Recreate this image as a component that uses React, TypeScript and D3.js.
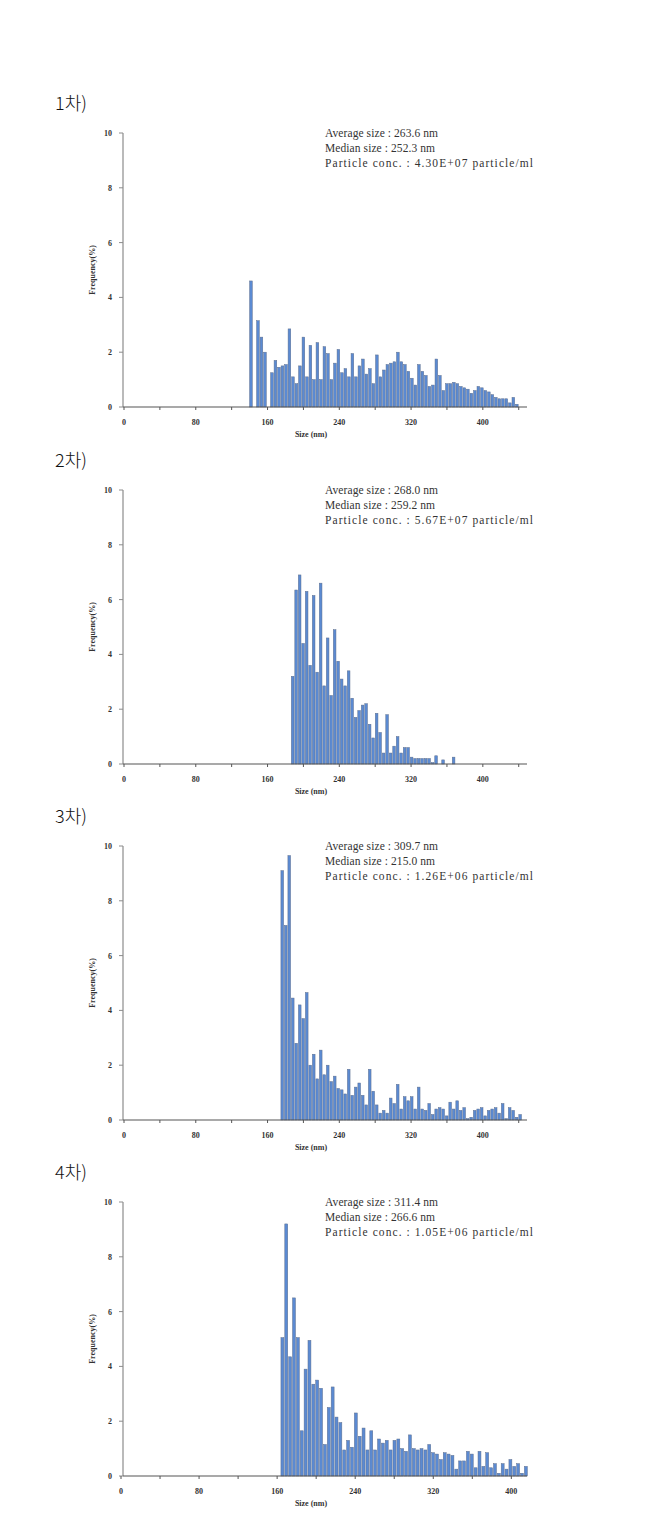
import React from 'react';
import * as d3 from 'd3';

// ---------- data ----------
const panelLabels = ['1차)', '2차)', '3차)', '4차)'];
const averageSizes = ['263.6', '268.0', '309.7', '311.4'];
const medianSizes = ['252.3', '259.2', '215.0', '266.6'];
const particleConcs = ['4.30E+07', '5.67E+07', '1.26E+06', '1.05E+06'];

// first bin centre (nm) and bin width (nm) for each run
const binStarts = [141.5, 188, 176.4, 165.4];
const binWidths = [3.9, 3.9, 3.9, 3.96];
const xMaxes = [447, 447, 447, 414];

const yTicks = [0, 2, 4, 6, 8, 10];
const xTickMarks = [0, 40, 80, 120, 160, 200, 240, 280, 320, 360, 400, 440];
const xTickLabels = [0, 80, 160, 240, 320, 400];

const freq1 = [
  4.6, 0, 3.15, 2.55, 2.0, 0, 1.25, 1.7, 1.45, 1.5,
  1.55, 2.85, 1.1, 0.85, 1.5, 2.55, 1.1, 2.25, 1.0, 2.35,
  1.0, 2.2, 1.95, 1.0, 1.6, 2.1, 1.25, 1.4, 1.1, 1.95,
  1.1, 1.5, 1.75, 1.2, 1.4, 0.85, 1.9, 1.1, 1.35, 1.55,
  1.6, 1.65, 2.0, 1.65, 1.55, 1.3, 1.05, 0.8, 1.55, 1.3,
  1.15, 0.75, 0.8, 1.75, 1.15, 0.6, 0.85, 0.85, 0.9, 0.85,
  0.75, 0.7, 0.65, 0.5, 0.6, 0.75, 0.7, 0.6, 0.55, 0.45,
  0.35, 0.3, 0.3, 0.3, 0.15, 0.35, 0.1,
];
const freq2 = [
  3.2, 6.35, 6.9, 4.4, 6.3, 3.6, 6.15, 3.35, 6.6, 2.85,
  4.6, 2.5, 4.9, 3.75, 3.1, 2.85, 3.4, 2.4, 1.7, 1.95,
  2.15, 2.2, 1.45, 0.95, 1.85, 1.15, 0.4, 1.8, 0.4, 0.65,
  1.0, 0.4, 0.6, 0.6, 0.25, 0.2, 0.2, 0.2, 0.2, 0.2,
  0.05, 0.3, 0, 0.15, 0, 0, 0.25, 0,
];
const freq3 = [
  9.1, 7.1, 9.65, 4.45, 2.8, 4.2, 3.7, 4.65, 2.0, 2.4,
  1.5, 2.55, 1.65, 2.0, 1.4, 1.6, 1.15, 1.1, 0.95, 1.85,
  0.9, 1.2, 1.35, 0.9, 0.55, 1.85, 1.05, 0.55, 0.25, 0.35,
  0.25, 0.8, 0.6, 1.3, 0.4, 0.85, 0.7, 0.85, 0.4, 1.2,
  0.4, 0.35, 0.6, 0.2, 0.4, 0.45, 0.4, 0.15, 0.65, 0.4,
  0.7, 0.35, 0.45, 0.05, 0.1, 0.35, 0.4, 0.45, 0.15, 0.35,
  0.4, 0.45, 0.25, 0.6, 0.05, 0.45, 0.35, 0.1, 0.2,
];
const freq4 = [
  5.05, 9.2, 4.35, 6.5, 5.05, 1.65, 3.9, 4.95, 3.35, 3.5,
  3.2, 1.15, 2.5, 3.25, 2.15, 1.95, 0.95, 1.3, 1.05, 2.3,
  1.45, 1.75, 0.95, 1.65, 0.95, 1.35, 1.2, 1.3, 0.95, 1.3,
  1.35, 1.0, 0.9, 1.5, 1.0, 0.95, 1.0, 0.95, 1.15, 0.85,
  0.8, 0.6, 0.85, 0.8, 0.75, 0.25, 0.55, 0.55, 0.9, 0.8,
  0.3, 0.9, 0.35, 0.85, 0.3, 0.45, 0.1, 0.45, 0.25, 0.6,
  0.35, 0.45, 0.1, 0.35,
];
const frequencies = [freq1, freq2, freq3, freq4];

// ---------- layout ----------
const W = 647;
const H = 1515;
const panelTops = [133, 490, 846, 1202];
const plotH = 274;
const xLefts = [124, 124, 124, 121];
const xRight = 525;
const axisX = 123;

const serif = "'Liberation Serif', 'Times New Roman', serif";
const cjk = "'Noto Sans CJK KR', 'Liberation Serif', serif";

function Panel({ idx }: { idx: number }) {
  const top = panelTops[idx];
  const bottom = top + plotH;
  const x = d3.scaleLinear().domain([0, xMaxes[idx]]).range([xLefts[idx], xRight]);
  const y = d3.scaleLinear().domain([0, 10]).range([bottom, top]);
  const data = frequencies[idx];
  const start = binStarts[idx];
  const bw = binWidths[idx];
  const barW = (x(bw) - x(0)) * 0.76;
  const tickMarks = xTickMarks.filter((t) => t <= xMaxes[idx]);
  const labelColor = '#333';

  return (
    <g>
      <text x={55} y={top - 23} fontFamily={cjk} fontSize={18} fontWeight={300} fill="#111">
        {panelLabels[idx]}
      </text>

      {/* bars */}
      {data.map((v, i) =>
        v > 0 ? (
          <rect
            key={i}
            x={x(start + i * bw) - barW / 2}
            y={y(v)}
            width={barW}
            height={y(0) - y(v)}
            fill="#5b8ad2"
            stroke="#5d6f8e"
            strokeWidth={0.5}
          />
        ) : null
      )}

      {/* y axis */}
      <line x1={axisX} x2={axisX} y1={top} y2={bottom} stroke="#8c8c8c" strokeWidth={1.2} />
      {yTicks.map((t) => (
        <g key={t}>
          <line x1={axisX - 4} x2={axisX} y1={y(t)} y2={y(t)} stroke="#8c8c8c" strokeWidth={1} />
          <text
            x={axisX - 11}
            y={y(t) + 3}
            textAnchor="end"
            fontFamily={serif}
            fontWeight="bold"
            fontSize={8}
            fill={labelColor}
          >
            {t}
          </text>
        </g>
      ))}
      <text
        transform={`translate(95,${(top + bottom) / 2}) rotate(-90)`}
        textAnchor="middle"
        fontFamily={serif}
        fontWeight="bold"
        fontSize={8}
        fill={labelColor}
      >
        Frequency(%)
      </text>

      {/* x axis */}
      <line x1={axisX} x2={xRight + 2} y1={bottom} y2={bottom} stroke="#555" strokeWidth={1.2} />
      {tickMarks.map((t) => (
        <line key={t} x1={x(t)} x2={x(t)} y1={bottom} y2={bottom + 3} stroke="#555" strokeWidth={1} />
      ))}
      {xTickLabels.map((t) => (
        <text
          key={t}
          x={x(t)}
          y={bottom + 18}
          textAnchor="middle"
          fontFamily={serif}
          fontWeight="bold"
          fontSize={8}
          fill={labelColor}
        >
          {t}
        </text>
      ))}
      <text
        x={311}
        y={bottom + 30}
        textAnchor="middle"
        fontFamily={serif}
        fontWeight="bold"
        fontSize={8}
        fill={labelColor}
      >
        Size (nm)
      </text>

      {/* annotation */}
      <g fontFamily={serif} fontSize={11.5} fill="#333" style={{ whiteSpace: 'pre' }}>
        <text x={325} y={top + 4} textLength={113} lengthAdjust="spacing">
          {`Average size  :  ${averageSizes[idx]}  nm`}
        </text>
        <text x={325} y={top + 19} textLength={110} lengthAdjust="spacing">
          {`Median size  :  ${medianSizes[idx]}  nm`}
        </text>
        <text x={325} y={top + 34} textLength={208} lengthAdjust="spacing">
          {`Particle conc.  :  ${particleConcs[idx]}  particle/ml`}
        </text>
      </g>
    </g>
  );
}

export default function App() {
  return (
    <svg
      width={W}
      height={H}
      viewBox={`0 0 ${W} ${H}`}
      style={{ position: 'absolute', left: 0, top: 0, background: '#fff' }}
    >
      <rect x={0} y={0} width={W} height={H} fill="#fff" />
      {[0, 1, 2, 3].map((i) => (
        <Panel key={i} idx={i} />
      ))}
    </svg>
  );
}
